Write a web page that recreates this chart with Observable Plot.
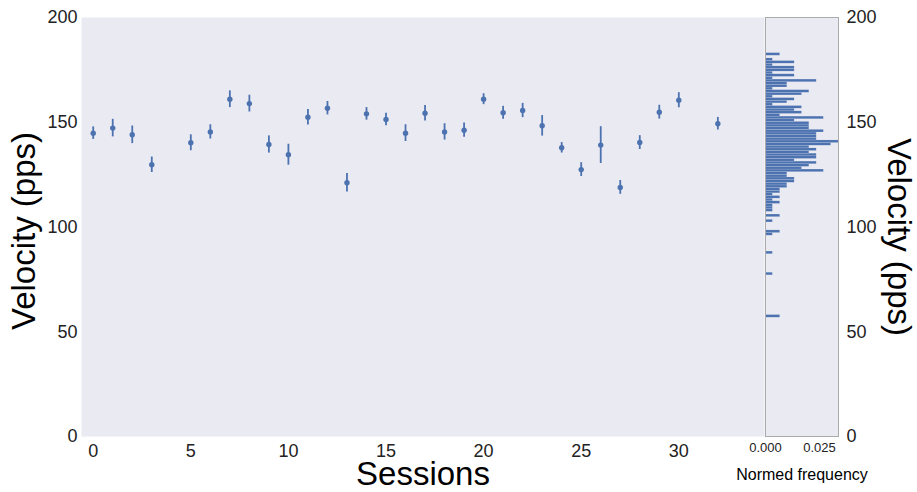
<!DOCTYPE html>
<html>
<head>
<meta charset="utf-8">
<script src="https://cdn.jsdelivr.net/npm/d3@7"></script>
<script src="https://cdn.jsdelivr.net/npm/@observablehq/plot@0.6"></script>
<style>
  html, body { margin: 0; padding: 0; background: #fff; }
  #wrap { position: relative; width: 917px; height: 492px; }
  #wrap svg { position: absolute; left: 0; top: 0; }
</style>
</head>
<body>
<div id="wrap"></div>
<script>
// Per-session means and error-bar half widths (pps)
const sessions = [0,1,2,3,5,6,7,8,9,10,11,12,13,14,15,16,17,18,19,20,21,22,23,24,25,26,27,28,29,30,32];
const means = [144.8,147.2,144.0,129.7,140.2,145.4,161.0,158.9,139.4,134.5,152.4,156.7,121.1,154.0,151.3,144.8,154.3,145.4,146.2,161.0,154.5,155.6,148.3,137.8,127.4,139.1,118.9,140.3,154.8,160.5,149.3];
const errors = [3.0,4.2,4.2,3.7,3.8,3.4,4.0,4.0,4.1,5.0,3.7,3.2,4.4,3.0,3.0,4.0,3.7,3.9,3.4,2.6,3.1,3.4,4.9,2.5,3.3,8.8,3.3,3.3,3.3,3.6,3.0];

// Histogram of velocities: 100 bins from histMin to histMax, normed frequency per bin (lowest bin first)
const histMin = 56.7;
const histMax = 183.0;
const histFreq = [
  0.0068,0,0,0,0,0,0,0,0,0, 0,0,0,0,0,0,0.0034,0,0,0,
  0,0,0,0,0.0034,0,0,0,0,0, 0,0.0034,0.0068,0,0,0,0.0034,0,0.0068,0,
  0.0034,0.0034,0.0034,0.0068,0.0034,0.0068,0.0034,0.0068,0.0068,0.0101,
  0.0101,0.0135,0.0135,0.0101,0.0101,0.0270,0.0169,0.0203,0.0237,0.0135,
  0.0237,0.0237,0.0203,0.0237,0.0203,0.0304,0.0338,0.0237,0.0237,0.0237,
  0.0270,0.0203,0.0203,0.0203,0.0135,0.0270,0.0068,0.0169,0.0135,0.0169,
  0.0034,0.0101,0.0135,0.0034,0.0169,0.0203,0.0034,0.0101,0.0101,0.0237,
  0.0034,0.0135,0.0034,0.0135,0.0135,0.0034,0.0135,0.0034,0,0.0068
];

const yTicks = [0, 50, 100, 150, 200];
const xTicks = [0, 5, 10, 15, 20, 25, 30];
const histTicks = [0, 0.025];

const blue = "#4c72b0";
const bg = "#eaeaf2";
const font = "'Liberation Sans', Arial, Helvetica, sans-serif";

const points = sessions.map((s, i) => ({session: s, mean: means[i], lo: means[i] - errors[i], hi: means[i] + errors[i]}));
const binW = (histMax - histMin) / histFreq.length;
const bins = histFreq.map((f, i) => ({lo: histMin + i * binW, hi: histMin + (i + 1) * binW, freq: f})).filter(d => d.freq > 0);

const main = Plot.plot({
  width: 917,
  height: 492,
  marginLeft: 81,
  marginRight: 153,
  marginTop: 17,
  marginBottom: 56,
  style: {fontFamily: font, fontSize: "18px", color: "#222", background: "transparent"},
  x: {domain: [-0.6, 34.39]},
  y: {domain: [0, 200]},
  marks: [
    Plot.frame({fill: bg, stroke: null}),
    Plot.axisX({ticks: xTicks, tickSize: 0, tickPadding: 8, label: null, fontSize: 18}),
    Plot.axisY({ticks: yTicks, tickSize: 0, tickPadding: 4, label: null, fontSize: 18}),
    Plot.ruleX(points, {x: "session", y1: "lo", y2: "hi", stroke: blue, strokeWidth: 1.8}),
    Plot.dot(points, {x: "session", y: "mean", r: 2.7, fill: blue, stroke: null}),
    Plot.text(["Sessions"], {frameAnchor: "bottom", dy: 38, fontSize: 33, fill: "#000", lineAnchor: "middle", textAnchor: "middle"}),
    Plot.text(["Velocity (pps)"], {frameAnchor: "left", dx: -57, dy: 4, rotate: -90, fontSize: 33, fill: "#000", lineAnchor: "middle", textAnchor: "middle"})
  ]
});

const hist = Plot.plot({
  width: 917,
  height: 492,
  marginLeft: 765,
  marginRight: 79,
  marginTop: 17,
  marginBottom: 56,
  style: {fontFamily: font, fontSize: "18px", color: "#222", background: "transparent"},
  x: {domain: [0, 0.0338]},
  y: {domain: [0, 200]},
  marks: [
    Plot.frame({fill: bg, stroke: null}),
    Plot.rect(bins, {x1: 0, x2: "freq", y1: "lo", y2: "hi", fill: blue, stroke: "white", strokeWidth: 0.4, strokeOpacity: 0.35}),
    Plot.frame({stroke: "#aaaaaa", strokeWidth: 1}),
    Plot.axisX({ticks: histTicks, tickFormat: d3.format(".3f"), tickSize: 0, tickPadding: 6, label: null, fontSize: 13}),
    Plot.axisY({anchor: "right", ticks: yTicks, tickSize: 0, tickPadding: 8, label: null, fontSize: 18}),
    Plot.text(["Normed frequency"], {frameAnchor: "bottom", dy: 38, fontSize: 16, fill: "#000", lineAnchor: "middle", textAnchor: "middle"}),
    Plot.text(["Velocity (pps)"], {frameAnchor: "right", dx: 60, dy: 10, rotate: 90, fontSize: 33, fill: "#000", lineAnchor: "middle", textAnchor: "middle"})
  ]
});

document.getElementById("wrap").append(main, hist);
</script>
</body>
</html>
